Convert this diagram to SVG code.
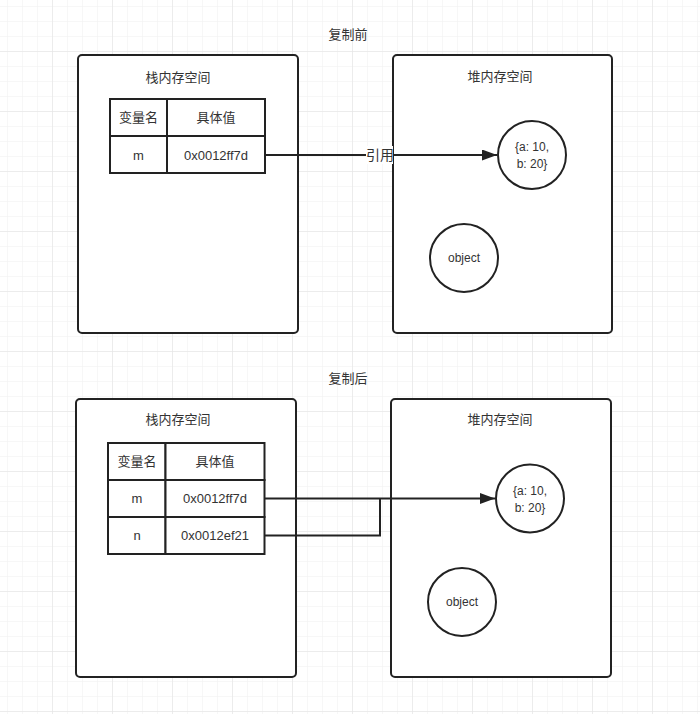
<svg xmlns="http://www.w3.org/2000/svg" width="700" height="714" viewBox="0 0 700 714">
<defs>
<pattern id="minor" x="7" y="6" width="15" height="15" patternUnits="userSpaceOnUse">
<path d="M0 0V15M0 0H15" fill="none" stroke="#efefef" stroke-width="1"/>
</pattern>
<pattern id="major" x="52" y="51" width="60" height="60" patternUnits="userSpaceOnUse">
<path d="M0 0V60M0 0H60" fill="none" stroke="#e2e2e2" stroke-width="1"/>
</pattern>
<marker id="arrow" markerWidth="15" markerHeight="11" refX="15" refY="5.5" orient="auto" markerUnits="userSpaceOnUse">
<path d="M0 0L15 5.5L0 11Z" fill="#222"/>
</marker>
</defs>
<style>
.box{fill:#fff;stroke:#222;stroke-width:2}
.cell{fill:#fff;stroke:#222;stroke-width:2}
.circ{fill:#fff;stroke:#222;stroke-width:2}
.t{font-family:"Liberation Sans","Noto Sans CJK SC",sans-serif;font-size:13px;fill:#333;text-anchor:middle;dominant-baseline:central}
.s{font-size:12px}
.conn{fill:none;stroke:#222;stroke-width:2}
</style>
<rect width="700" height="714" fill="#fff"/>
<rect width="700" height="714" fill="url(#minor)"/>
<rect width="700" height="714" fill="url(#major)"/>

<text id="title-before" class="t" x="348" y="34">复制前</text>
<text id="title-after" class="t" x="348" y="378">复制后</text>

<g id="stack-before">
<rect class="box" x="78" y="55" width="220" height="278" rx="4"/>
<text class="t" x="178" y="77">栈内存空间</text>
</g>
<g id="table-before">
<rect class="cell" x="110" y="99" width="57" height="37"/>
<rect class="cell" x="167" y="99" width="98" height="37"/>
<rect class="cell" x="110" y="136" width="57" height="37"/>
<rect class="cell" x="167" y="136" width="98" height="37"/>
<text class="t" x="138.5" y="117.5">变量名</text>
<text class="t" x="216" y="117.5">具体值</text>
<text class="t" x="138.5" y="155">m</text>
<text class="t" x="216" y="155">0x0012ff7d</text>
</g>
<g id="heap-before">
<rect class="box" x="393" y="55" width="219" height="278" rx="4"/>
<text class="t" x="500" y="76">堆内存空间</text>
</g>
<g id="obj-before">
<circle class="circ" cx="532" cy="155" r="34"/>
<text class="t s" x="532" y="147">{a: 10,</text>
<text class="t s" x="532" y="164">b: 20}</text>
</g>
<g id="object-before">
<circle class="circ" cx="464" cy="258" r="34"/>
<text class="t s" x="464" y="258">object</text>
</g>

<g id="stack-after">
<rect class="box" x="76" y="399" width="220" height="278" rx="4"/>
<text class="t" x="178" y="419">栈内存空间</text>
</g>
<g id="table-after">
<rect class="cell" x="108" y="443" width="57.5" height="37"/>
<rect class="cell" x="165.5" y="443" width="99" height="37"/>
<rect class="cell" x="108" y="480" width="57.5" height="37"/>
<rect class="cell" x="165.5" y="480" width="99" height="37"/>
<rect class="cell" x="108" y="517" width="57.5" height="37"/>
<rect class="cell" x="165.5" y="517" width="99" height="37"/>
<text class="t" x="137" y="461.5">变量名</text>
<text class="t" x="215" y="461.5">具体值</text>
<text class="t" x="137" y="498.5">m</text>
<text class="t" x="215" y="498.5">0x0012ff7d</text>
<text class="t" x="137" y="535.5">n</text>
<text class="t" x="215" y="535.5">0x0012ef21</text>
</g>
<g id="heap-after">
<rect class="box" x="391" y="399" width="220" height="278" rx="4"/>
<text class="t" x="500" y="419">堆内存空间</text>
</g>
<g id="obj-after">
<circle class="circ" cx="530" cy="498.5" r="34"/>
<text class="t s" x="530" y="490.5">{a: 10,</text>
<text class="t s" x="530" y="507.5">b: 20}</text>
</g>
<g id="object-after">
<circle class="circ" cx="462" cy="602" r="34"/>
<text class="t s" x="462" y="602">object</text>
</g>

<g id="connectors">
<path class="conn" d="M265 155H497" marker-end="url(#arrow)"/>
<rect x="366" y="146" width="27" height="18" fill="#fff"/>
<text class="t" x="380" y="155" style="font-size:14px">引用</text>
<path class="conn" d="M265 498.5H495" marker-end="url(#arrow)"/>
<path class="conn" d="M265 535.5H380V498.5"/>
</g>
</svg>
